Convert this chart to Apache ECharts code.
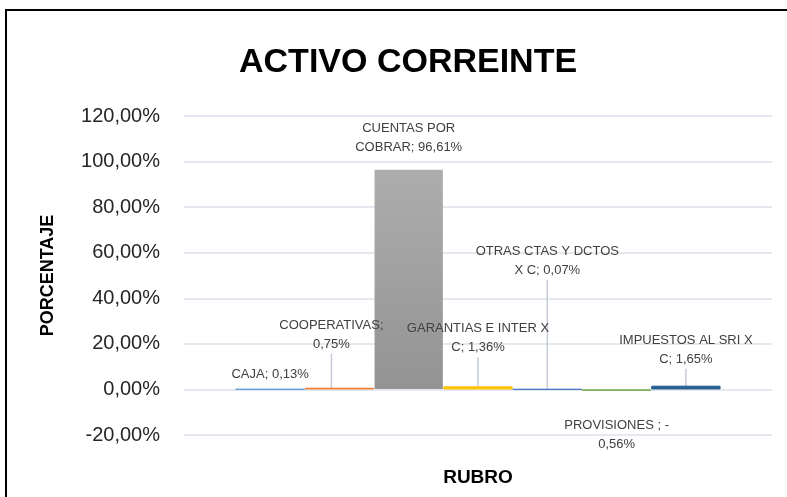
<!DOCTYPE html>
<html>
<head>
<meta charset="utf-8">
<script src="https://cdn.jsdelivr.net/npm/echarts@6/dist/echarts.min.js"></script>
<style>
html, body { margin: 0; padding: 0; background: #fff; }
#main { width: 787px; height: 497px; }
</style>
</head>
<body>
<div id="main"></div>
<script>
// datos del grafico
var rubros = ['CAJA', 'COOPERATIVAS', 'CUENTAS POR COBRAR', 'GARANTIAS E INTER X C',
              'OTRAS CTAS Y DCTOS X C', 'PROVISIONES ', 'IMPUESTOS AL SRI X C'];
var porcentajes = [0.13, 0.75, 96.61, 1.36, 0.07, -0.56, 1.65];
var colores = ['#5B9BD5', '#ED7D31', '#A5A5A5', '#FFC000', '#4472C4', '#70AD47', '#255E91'];

// donde corta Excel cada etiqueta (0 = una sola linea)
var cortes = [0, 13, 11, 19, 18, 15, 18];
// ajuste de cada etiqueta: desplazamiento y linea guia
var ajustes = [
    { dx: 0, dy: 0, linea: false },
    { dx: -8, dy: -29, linea: true },
    { dx: 0, dy: -7, linea: false },
    { dx: 0, dy: -24, linea: true },
    { dx: 0, dy: -104, linea: true },
    { dx: 0, dy: 20, linea: false },
    { dx: 0, dy: -12, linea: true }
];

function fmt(v) {
    return v.toFixed(2).replace('.', ',') + '%';
}

function etiqueta(i) {
    var txt = rubros[i] + '; ' + fmt(porcentajes[i]);
    var k = cortes[i];
    if (!k) return txt;
    return txt.slice(0, k).replace(/\s+$/, '') + '\n' + txt.slice(k).replace(/^\s+/, '');
}

var series = rubros.map(function (nombre, i) {
    var color = colores[i];
    var borde = colores[i];
    if (i === 2) {
        color = new echarts.graphic.LinearGradient(0, 0, 0, 1, [
            { offset: 0, color: '#ADADAD' },
            { offset: 1, color: '#939393' }
        ]);
        borde = 'transparent';
    }
    return {
        name: nombre,
        type: 'bar',
        barGap: '0%',
        barCategoryGap: '17.5%',
        data: [porcentajes[i]],
        itemStyle: { color: color, borderColor: borde, borderWidth: 1 },
        label: {
            show: true,
            position: porcentajes[i] < 0 ? 'bottom' : 'top',
            distance: 5,
            formatter: function () { return etiqueta(i); },
            fontFamily: 'Liberation Sans',
            fontSize: 13,
            lineHeight: 19,
            color: '#404040',
            align: 'center'
        },
        labelLayout: { dx: ajustes[i].dx, dy: ajustes[i].dy },
        labelLine: {
            show: ajustes[i].linea,
            lineStyle: { color: '#C5CCD8', width: 1.5 }
        }
    };
});

var option = {
    backgroundColor: '#fff',
    animation: false,
    title: {
        text: 'ACTIVO CORREINTE',
        left: 234,
        top: 41,
        textStyle: {
            fontFamily: 'Liberation Sans',
            fontWeight: 'bold',
            fontSize: 34,
            color: '#000'
        }
    },
    graphic: [{
        type: 'rect',
        shape: { x: 6, y: 10, width: 800, height: 500 },
        style: { fill: 'none', stroke: '#000', lineWidth: 2 },
        silent: true
    }],
    grid: { left: 184, right: 15, top: 116, bottom: 62 },
    xAxis: {
        type: 'category',
        data: [''],
        name: 'RUBRO',
        nameLocation: 'middle',
        nameGap: 33,
        nameTextStyle: {
            fontFamily: 'Liberation Sans',
            fontWeight: 'bold',
            fontSize: 19,
            color: '#000'
        },
        axisLine: { show: false, onZero: false },
        axisTick: { show: false },
        axisLabel: { show: false }
    },
    yAxis: {
        type: 'value',
        min: -20,
        max: 120,
        interval: 20,
        name: 'PORCENTAJE',
        nameLocation: 'middle',
        nameRotate: 90,
        nameGap: 127,
        nameTextStyle: {
            fontFamily: 'Liberation Sans',
            fontWeight: 'bold',
            fontSize: 18,
            color: '#000'
        },
        axisLine: { show: false },
        axisTick: { show: false },
        axisLabel: {
            margin: 24,
            fontFamily: 'Liberation Sans',
            fontSize: 20,
            color: '#262626',
            formatter: function (v) { return fmt(v); }
        },
        splitLine: { lineStyle: { color: '#DDE1E8', width: 1.5 } }
    },
    series: series
};

var chart = echarts.init(document.getElementById('main'));
chart.setOption(option);
</script>
</body>
</html>
